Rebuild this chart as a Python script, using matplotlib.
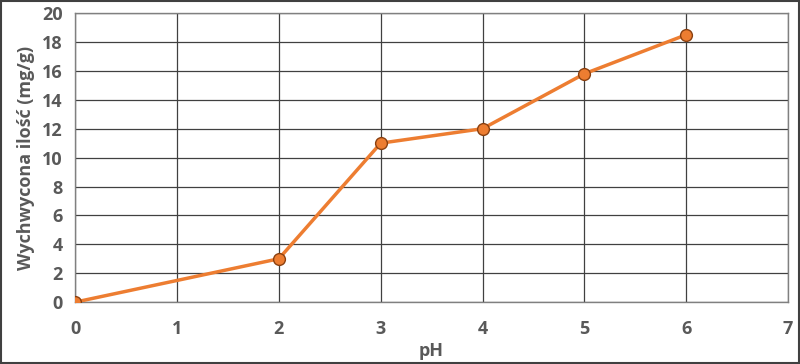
import matplotlib.pyplot as plt

# dane z wykresu
ph = [0, 2, 3, 4, 5, 6]
ilosc = [0, 3.0, 11.0, 12.0, 15.8, 18.5]
xticks = [0, 1, 2, 3, 4, 5, 6, 7]
yticks = list(range(0, 21, 2))

plt.rcParams['font.family'] = ['Open Sans', 'DejaVu Sans']
szary = '#595959'

fig = plt.figure(figsize=(8, 3.64), dpi=100)
ax = fig.add_axes([0.094, 0.170, 0.891, 0.794])

ax.plot(ph, ilosc, color='#ED7D31', lw=2.5, marker='o', ms=8.5,
        mfc='#ED7D31', mec='#8A4010', mew=1, zorder=3)

ax.set_xlim(0, 7)
ax.set_ylim(0, 20)
ax.set_xticks(xticks)
ax.set_yticks(yticks)
ax.grid(True, color='#404040', lw=0.9)
ax.tick_params(length=0, labelsize=13, labelcolor=szary)
ax.tick_params(axis='x', pad=13)
ax.tick_params(axis='y', pad=9)
for lab in ax.get_xticklabels() + ax.get_yticklabels():
    lab.set_fontweight('bold')
for s in ax.spines.values():
    s.set_color('#808080')
    s.set_linewidth(1)

ax.set_xlabel('pH', fontsize=13, fontweight='bold', color=szary, labelpad=3)
ax.set_ylabel('Wychwycona ilość (mg/g)', fontsize=13, fontweight='bold', color=szary, labelpad=5)

# ramka wokol wykresu
fig.patches.append(plt.Rectangle((0.001, 0.002), 0.998, 0.996, transform=fig.transFigure,
                                 fill=False, edgecolor='#404040', lw=1.5))

fig.savefig('out.png', dpi=100)
